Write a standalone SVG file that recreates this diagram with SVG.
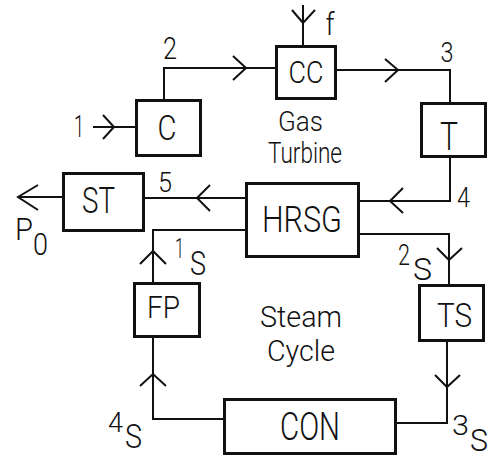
<svg xmlns="http://www.w3.org/2000/svg" width="495" height="459" viewBox="0 0 495 459">
<style>
.box{fill:#fff;stroke:#111;stroke-width:3}
.ln{fill:none;stroke:#111;stroke-width:2;stroke-linejoin:miter}
.ah{fill:none;stroke:#111;stroke-width:2}
text{font-family:Roboto,"Liberation Sans",Arial,sans-serif;font-weight:300;fill:#111}
.m{text-anchor:middle}
</style>
<rect width="495" height="459" fill="#fff"/>
<g id="connectors">
<path class="ln" d="M93,127H135"/><path class="ah" d="M103,115L114,127L103,139"/>
<path class="ln" d="M164,99V68H275"/><path class="ah" d="M233,56L246,68L233,80"/>
<path class="ln" d="M303,5V45"/><path class="ah" d="M292,10L303,23L315,10"/>
<path class="ln" d="M337,70H450V102"/><path class="ah" d="M385,59L398,70L385,82"/>
<path class="ln" d="M450,158V201H360"/><path class="ah" d="M403,188L390,201L403,213"/>
<path class="ln" d="M245,198H145"/><path class="ah" d="M210,185L197,198L210,211"/>
<path class="ln" d="M62,197H18"/><path class="ah" d="M38,185L18,197L38,210"/>
<path class="ln" d="M360,234H449V284"/><path class="ah" d="M437,248L449,260L462,248"/>
<path class="ln" d="M447,342V423H397"/><path class="ah" d="M435,375L447,387L460,375"/>
<path class="ln" d="M223,419H153V338"/><path class="ah" d="M140,386L153,374L166,386"/>
<path class="ln" d="M153,282V230H245"/><path class="ah" d="M140,264L153,251L166,264"/>
</g>
<g id="C"><rect class="box" x="136.5" y="100.5" width="64" height="55"/><text class="m" x="167" y="140" font-size="35" textLength="19" lengthAdjust="spacingAndGlyphs">C</text></g>
<g id="CC"><rect class="box" x="276.5" y="46.5" width="59" height="52"/><text class="m" x="306" y="83" font-size="32" textLength="35" lengthAdjust="spacingAndGlyphs">CC</text></g>
<g id="T"><rect class="box" x="421.5" y="103.5" width="64" height="53"/><text class="m" x="449" y="150" font-size="38" textLength="18" lengthAdjust="spacingAndGlyphs">T</text></g>
<g id="HRSG"><rect class="box" x="246.5" y="183.5" width="112" height="73"/><text class="m" x="302" y="232" font-size="37" textLength="80" lengthAdjust="spacingAndGlyphs">HRSG</text></g>
<g id="ST"><rect class="box" x="63.5" y="173.5" width="80" height="57"/><text class="m" x="98.5" y="213" font-size="36" textLength="33" lengthAdjust="spacingAndGlyphs">ST</text></g>
<g id="FP"><rect class="box" x="134.5" y="283.5" width="65" height="53"/><text class="m" x="163.5" y="318" font-size="31" textLength="33" lengthAdjust="spacingAndGlyphs">FP</text></g>
<g id="TS"><rect class="box" x="419.5" y="285.5" width="64" height="55"/><text class="m" x="454.5" y="327" font-size="33" textLength="35" lengthAdjust="spacingAndGlyphs">TS</text></g>
<g id="CON"><rect class="box" x="224.5" y="399.5" width="171" height="54"/><text class="m" x="310" y="440" font-size="39" textLength="60" lengthAdjust="spacingAndGlyphs">CON</text></g>
<g id="labels">
<text class="m" x="300.5" y="131" font-size="27" textLength="45" lengthAdjust="spacingAndGlyphs">Gas</text>
<text class="m" x="305" y="163" font-size="29" textLength="74" lengthAdjust="spacingAndGlyphs">Turbine</text>
<text class="m" x="301" y="327" font-size="29" textLength="82" lengthAdjust="spacingAndGlyphs">Steam</text>
<text class="m" x="301" y="361" font-size="29" textLength="68" lengthAdjust="spacingAndGlyphs">Cycle</text>
<text class="m" x="79" y="137" font-size="31" textLength="10" lengthAdjust="spacingAndGlyphs">1</text>
<text class="m" x="170" y="59" font-size="31" textLength="14" lengthAdjust="spacingAndGlyphs">2</text>
<text class="m" x="447" y="62" font-size="27" textLength="13" lengthAdjust="spacingAndGlyphs">3</text>
<text class="m" x="463.5" y="207" font-size="27" textLength="13" lengthAdjust="spacingAndGlyphs">4</text>
<text class="m" x="165" y="192" font-size="28" textLength="14" lengthAdjust="spacingAndGlyphs">5</text>
<text class="m" x="330" y="35" font-size="31" textLength="9" lengthAdjust="spacingAndGlyphs">f</text>
<text x="15" y="240" font-size="31" textLength="18" lengthAdjust="spacingAndGlyphs">P</text>
<text x="33" y="255" font-size="31" textLength="15" lengthAdjust="spacingAndGlyphs">0</text>
<text x="175" y="258" font-size="28" textLength="9" lengthAdjust="spacingAndGlyphs">1</text>
<text x="190" y="275" font-size="34" textLength="16" lengthAdjust="spacingAndGlyphs">S</text>
<text x="398" y="265" font-size="30" textLength="12" lengthAdjust="spacingAndGlyphs">2</text>
<text x="413" y="280" font-size="32" textLength="19" lengthAdjust="spacingAndGlyphs">S</text>
<text x="452" y="435" font-size="28" textLength="17" lengthAdjust="spacingAndGlyphs">3</text>
<text x="470" y="451" font-size="31" textLength="18" lengthAdjust="spacingAndGlyphs">S</text>
<text x="108" y="432" font-size="28" textLength="15" lengthAdjust="spacingAndGlyphs">4</text>
<text x="125" y="448" font-size="34" textLength="17" lengthAdjust="spacingAndGlyphs">S</text>
</g>
</svg>
